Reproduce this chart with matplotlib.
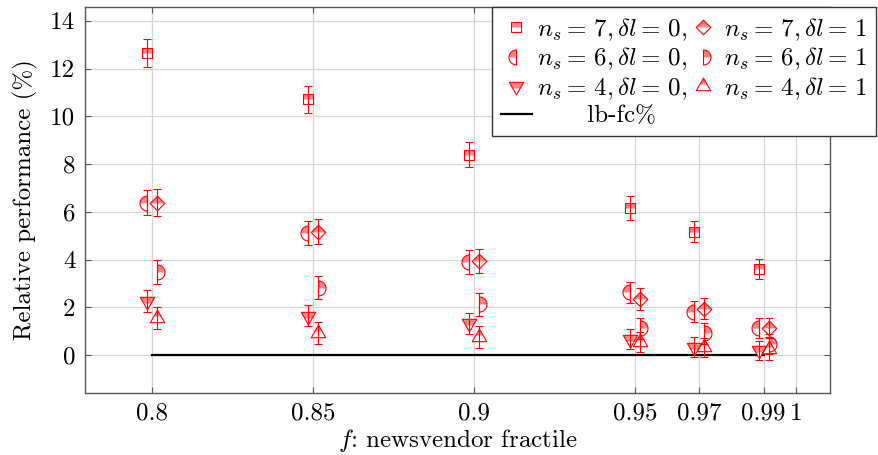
import numpy as np
import matplotlib
matplotlib.use('Agg')
import matplotlib.pyplot as plt
from matplotlib.path import Path
from matplotlib.lines import Line2D
from matplotlib.legend_handler import HandlerTuple

# ---------------- data ----------------
fractiles = [0.8, 0.85, 0.9, 0.95, 0.97, 0.99]

n7_d0 = [12.65, 10.71, 8.40, 6.16, 5.18, 3.63]
n7_d0_err = [0.60, 0.56, 0.52, 0.49, 0.45, 0.42]
n7_d1 = [6.39, 5.17, 3.95, 2.35, 1.94, 1.13]
n7_d1_err = [0.55, 0.53, 0.51, 0.45, 0.44, 0.42]
n6_d0 = [6.39, 5.11, 3.92, 2.63, 1.82, 1.14]
n6_d0_err = [0.52, 0.50, 0.50, 0.45, 0.44, 0.42]
n6_d1 = [3.50, 2.83, 2.13, 1.12, 0.92, 0.45]
n6_d1_err = [0.50, 0.47, 0.47, 0.45, 0.44, 0.42]
n4_d0 = [2.27, 1.66, 1.33, 0.69, 0.35, 0.21]
n4_d0_err = [0.48, 0.44, 0.45, 0.41, 0.42, 0.40]
n4_d1 = [1.56, 0.94, 0.77, 0.55, 0.33, 0.28]
n4_d1_err = [0.47, 0.45, 0.45, 0.42, 0.40, 0.48]

lbfc_x = [0.8, 0.99]
lbfc_y = [0.0, 0.0]

xtick_vals = [0.8, 0.85, 0.9, 0.95, 0.97, 0.99, 1.0]
xtick_labels = ['0.8', '0.85', '0.9', '0.95', '0.97', '0.99', '1']
ytick_vals = [0, 2, 4, 6, 8, 10, 12, 14]
ytick_labels = ['0', '2', '4', '6', '8', '10', '12', '14']

labels_d0 = [r'$n_s =\,7, \delta l =\,0,$', r'$n_s =\,6, \delta l =\,0,$', r'$n_s =\,4, \delta l =\,0,$']
labels_d1 = [r'$n_s =\,7, \delta l =\,1$', r'$n_s =\,6, \delta l =\,1$', r'$n_s =\,4, \delta l =\,1$']
lbfc_label = '      lb-fc%'
xlabel = r'$f$: newsvendor fractile'
ylabel = 'Relative performance (%)'

# ---------------- style ----------------
plt.rcParams['font.family'] = ['cmr10', 'DejaVu Serif']
plt.rcParams['mathtext.fontset'] = 'cm'
plt.rcParams['axes.formatter.use_mathtext'] = True
plt.rcParams['axes.unicode_minus'] = False

RED = '#ff0000'
PINK = '#ff8585'
FS_TICK = 18
FS_LAB = 18
FS_LEG = 18


def poly(verts, norm_pt=None):
    vs, codes = [], []
    if norm_pt is not None:
        vs.append(norm_pt)
        codes.append(Path.MOVETO)
    vs += list(verts)
    codes += [Path.MOVETO] + [Path.LINETO] * (len(verts) - 1)
    vs.append(verts[0])
    codes.append(Path.CLOSEPOLY)
    return Path(np.array(vs, float), codes)


def arc(t0, t1, n=40):
    t = np.linspace(t0, t1, n)
    return [(np.cos(a), np.sin(a)) for a in t]


sq_full = poly([(-1, -1), (1, -1), (1, 1), (-1, 1)])
sq_top = poly([(-1, 0), (1, 0), (1, 1), (-1, 1)])
dm_full = poly([(0, 1), (1, 0), (0, -1), (-1, 0)])
dm_top = poly([(-1, 0), (1, 0), (0, 1)])
hl_full = poly(arc(np.pi / 2, 3 * np.pi / 2))
hl_top = poly(arc(np.pi / 2, np.pi) + [(0, 0)])
hr_full = poly(arc(-np.pi / 2, np.pi / 2))
hr_top = poly(arc(0, np.pi / 2) + [(0, 0)])
td_full = poly([(0, -1), (0.866, 0.5), (-0.866, 0.5)])
td_top = poly([(-0.866, 0.5), (0.866, 0.5), (0.433, -0.25), (-0.433, -0.25)], norm_pt=(0, -1))
tu_full = poly([(0, 1), (-0.866, -0.5), (0.866, -0.5)])
tu_top = poly([(0, 1), (-0.433, 0.25), (0.433, 0.25)])

MEW = 0.8

fig = plt.figure(figsize=(8.79, 4.55), dpi=100)
ax = fig.add_axes([85 / 879, (455 - 392.7) / 455, (830 - 85) / 879, (392.7 - 7.3) / 455])

ax.set_xlim(0.7792, 1.0106)
ax.set_ylim(-1.57, 14.57)
ax.set_xticks(xtick_vals)
ax.set_xticklabels(xtick_labels)
ax.set_yticks(ytick_vals)
ax.set_yticklabels(ytick_labels)
ax.grid(True, color='#d4d4d4', lw=0.9)
ax.set_axisbelow(True)
for s in ax.spines.values():
    s.set_color('#555555')
    s.set_linewidth(1.0)
ax.tick_params(direction='in', length=4, width=0.8, color='#555555', top=True, right=True,
               labelsize=FS_TICK, pad=7)
ax.set_xlabel(xlabel, fontsize=FS_LAB, labelpad=2)
ax.set_ylabel(ylabel, fontsize=FS_LAB, labelpad=9)

ax.plot(lbfc_x, lbfc_y, color='black', lw=1.6, zorder=2.5)

dx = 0.0015


def draw(x, y, err, full, top, ms):
    ax.plot(x, y, ls='none', marker=full, ms=ms, mfc='white', mec='none', zorder=3)
    ax.plot(x, y, ls='none', marker=top, ms=ms, mfc=PINK, mec='none', zorder=3.1)
    ax.plot(x, y, ls='none', marker=full, ms=ms, mfc='none', mec=RED, mew=MEW, zorder=3.2)
    ax.errorbar(x, y, yerr=err, fmt='none', ecolor=RED, elinewidth=0.8, capsize=3.2,
                capthick=0.8, zorder=3.5)


def handle(full, top, ms):
    return (Line2D([], [], ls='none', marker=full, ms=ms, mfc='white', mec='none'),
            Line2D([], [], ls='none', marker=top, ms=ms, mfc=PINK, mec='none'),
            Line2D([], [], ls='none', marker=full, ms=ms, mfc='none', mec=RED, mew=MEW))


xf = np.array(fractiles)
x0 = xf - dx
x1 = xf + dx

SQ, DM, HC, TR = 7.8, 10.5, 10.8, 12.0
draw(x0, n7_d0, n7_d0_err, sq_full, sq_top, SQ)
draw(x1, n7_d1, n7_d1_err, dm_full, dm_top, DM)
draw(x0, n6_d0, n6_d0_err, hl_full, hl_top, HC)
draw(x1, n6_d1, n6_d1_err, hr_full, hr_top, HC)
draw(x0, n4_d0, n4_d0_err, td_full, td_top, TR)
draw(x1, n4_d1, n4_d1_err, tu_full, tu_top, TR)

handles = [handle(sq_full, sq_top, SQ), handle(hl_full, hl_top, HC), handle(td_full, td_top, TR),
           Line2D([], [], color='black', lw=1.6),
           handle(dm_full, dm_top, DM), handle(hr_full, hr_top, HC), handle(tu_full, tu_top, TR)]
labels = labels_d0 + [lbfc_label] + labels_d1

leg = fig.legend(handles, labels, ncol=2, loc='upper left',
                 bbox_to_anchor=(492 / 879, (455 - 7.3) / 455), bbox_transform=fig.transFigure,
                 borderaxespad=0, fontsize=FS_LEG, handlelength=1.25, handletextpad=0.2,
                 columnspacing=0.0, labelspacing=0.12, borderpad=0.35, fancybox=False,
                 framealpha=1, edgecolor='#333333',
                 handler_map={tuple: HandlerTuple(ndivide=1)})
leg.get_frame().set_linewidth(1.0)
leg.set_zorder(10)

fig.savefig('out.png', dpi=100)
